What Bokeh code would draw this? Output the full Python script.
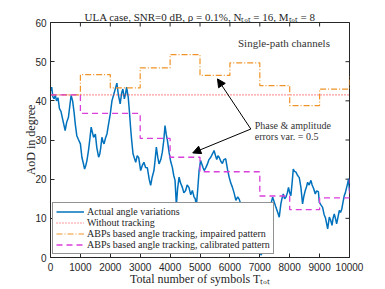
from bokeh.plotting import figure
from bokeh.models import Range1d, FixedTicker, Legend, LegendItem, Label, Arrow, NormalHead
from bokeh.embed import file_html
from bokeh.resources import INLINE
import math

# ---------------- data ----------------
x_ticks = [0, 1000, 2000, 3000, 4000, 5000, 6000, 7000, 8000, 9000, 10000]
y_ticks = [0, 10, 20, 30, 40, 50, 60]

actual_x = [0, 40, 80, 120, 160, 200, 250, 300, 350, 400, 450, 490, 540, 600, 650, 690, 740, 790, 830, 880,
            930, 1000, 1050, 1100, 1140, 1180, 1220, 1270, 1320, 1360, 1400, 1440, 1500, 1550, 1610, 1650,
            1680, 1720, 1760, 1790, 1840, 1890, 1940, 2000, 2055, 2110, 2165, 2220, 2270, 2330, 2380, 2420,
            2470, 2510, 2545, 2600, 2645, 2680, 2715, 2760, 2800, 2850, 2900, 2950, 3015, 3070, 3125, 3180,
            3240, 3300, 3350, 3400, 3460, 3500, 3540, 3590, 3630, 3690, 3740, 3790, 3830, 3870, 3910, 3965,
            4020, 4075, 4120, 4165, 4210, 4250, 4300, 4350, 4410, 4460, 4520, 4570, 4630, 4690, 4745, 4800,
            4840, 4880, 4930, 4970, 5020, 5060, 5100, 5140, 5200, 5250, 5300, 5360, 5420, 5470, 5520, 5560,
            5600, 5640, 5700, 5750, 5800, 5860, 5920, 5975, 6030, 6085, 6140, 6200, 6260, 6310, 6370, 6450,
            6550, 6650, 6750, 6850, 6950, 7050, 7120, 7200, 7280, 7350, 7430, 7490, 7540, 7600, 7650, 7705,
            7740, 7785, 7830, 7880, 7920, 7960, 8000, 8040, 8080, 8120, 8160, 8210, 8260, 8320, 8375, 8430,
            8470, 8520, 8560, 8600, 8650, 8710, 8750, 8800, 8855, 8900, 8960, 8990, 9040, 9100, 9150, 9200,
            9270, 9325, 9370, 9415, 9450, 9490, 9530, 9570, 9620, 9660, 9700, 9740, 9780, 9825, 9860, 9905,
            9940, 9970, 10000]
actual_y = [42.6, 43.5, 41.0, 40.5, 41.5, 40.0, 40.8, 38.0, 37.3, 35.5, 33.8, 32.4, 34.5, 35.8, 39.0, 41.4,
            40.0, 37.0, 34.0, 31.1, 30.2, 29.0, 25.6, 24.0, 22.6, 23.5, 24.8, 27.3, 30.5, 33.3, 32.0, 30.7,
            31.5, 28.0, 25.6, 26.5, 28.0, 30.7, 29.5, 29.0, 30.5, 31.6, 34.0, 36.7, 40.0, 41.5, 43.0, 44.5,
            41.5, 39.2, 42.0, 43.0, 40.5, 41.8, 43.5, 40.9, 36.7, 33.0, 29.9, 26.5, 25.5, 24.3, 26.0, 25.5,
            22.2, 23.5, 24.3, 23.0, 22.9, 20.0, 18.4, 20.5, 22.2, 25.0, 28.2, 25.5, 23.9, 25.0, 26.9, 30.0,
            33.7, 31.5, 29.9, 26.9, 24.5, 23.0, 21.0, 19.7, 13.3, 17.5, 20.5, 19.0, 17.9, 16.5, 17.1, 18.5,
            17.9, 16.0, 17.1, 15.5, 15.0, 13.3, 18.0, 22.2, 24.8, 23.9, 23.0, 22.2, 23.0, 23.9, 25.0, 25.6,
            26.5, 27.3, 26.0, 25.0, 26.0, 25.6, 24.5, 24.0, 25.0, 25.2, 22.5, 20.5, 19.0, 17.9, 16.5, 14.6,
            15.5, 14.9, 13.5, 11.0, 8.5, 6.5, 5.0, 3.5, 2.0, 0.6, 4.0, 8.0, 11.0, 13.0, 15.4, 14.0, 12.8,
            11.5, 10.3, 13.7, 15.0, 16.2, 15.0, 15.5, 16.5, 17.9, 16.5, 15.8, 19.0, 22.6, 22.0, 21.8, 21.0,
            20.4, 17.9, 13.7, 15.5, 17.1, 18.0, 19.2, 18.5, 19.7, 18.5, 17.6, 16.2, 17.0, 16.8, 14.1, 13.5,
            12.8, 11.0, 10.0, 7.3, 10.3, 9.5, 8.2, 10.0, 11.1, 10.0, 8.6, 10.5, 12.0, 11.5, 12.3, 14.0, 15.8,
            16.5, 17.9, 19.0, 20.1, 17.0]

no_track_x = [0, 10000]
no_track_y = [41.5, 41.5]

block_x = [0, 1000, 2000, 3000, 4000, 5000, 6000, 7000, 8000, 9000, 10000]
impaired_y = [41.5, 46.7, 43.3, 48.4, 51.8, 46.5, 49.7, 43.9, 38.8, 43.0, 46.7]
calibrated_y = [41.5, 36.8, 36.8, 30.4, 25.6, 21.9, 21.9, 15.7, 12.2, 15.2, 20.0]

legend_labels = ["Actual angle variations",
                 "Without tracking",
                 "ABPs based angle tracking, impaired pattern",
                 "ABPs based angle tracking, calibrated pattern"]

# ---------------- figure ----------------
SERIF = "Liberation Serif"
SANS = "Liberation Sans"
DARK = "#262626"

p = figure(width=385, height=289, output_backend="svg", toolbar_location=None,
           x_range=Range1d(x_ticks[0], x_ticks[-1]), y_range=Range1d(y_ticks[0], y_ticks[-1]),
           min_border_left=50, min_border_right=36, min_border_top=22, min_border_bottom=32)

p.title.text = "ULA case, SNR=0 dB, \u03c1 = 0.1%, N\u209c\u2092\u209c = 16, M\u209c\u2092\u209c = 8"
p.title.align = "center"
p.title.text_font = SERIF
p.title.text_font_style = "normal"
p.title.text_font_size = "11px"
p.title.text_color = DARK
p.title.standoff = 0
p.title.offset = 0

p.xgrid.visible = False
p.ygrid.visible = False
p.outline_line_color = DARK
p.outline_line_width = 1
p.background_fill_color = "white"

for ax, ticks in ((p.xaxis[0], x_ticks), (p.yaxis[0], y_ticks)):
    ax.ticker = FixedTicker(ticks=ticks)
    ax.major_tick_in = 4
    ax.major_tick_out = 0
    ax.minor_tick_line_color = None
    ax.axis_line_color = DARK
    ax.major_tick_line_color = DARK
    ax.major_label_text_font = SANS
    ax.major_label_text_font_size = "10px"
    ax.major_label_text_color = DARK
    ax.axis_label_text_font = SERIF
    ax.axis_label_text_font_style = "normal"
    ax.axis_label_text_font_size = "12px"
    ax.axis_label_text_color = DARK

p.xaxis[0].axis_label = "Total number of symbols T\u209c\u2092\u209c"
p.xaxis[0].major_label_standoff = 5
p.xaxis[0].axis_label_standoff = -2
p.yaxis[0].axis_label = "AoD in degree"
p.yaxis[0].major_label_standoff = 4
p.yaxis[0].axis_label_standoff = -6

# mirrored inward ticks on the top and right edges (clipped to the frame)
p.scatter(x_ticks, [y_ticks[-1]] * len(x_ticks), marker="dash", size=8, angle=math.pi / 2,
          line_color=DARK, line_width=1)
p.scatter([x_ticks[-1]] * len(y_ticks), y_ticks, marker="dash", size=8,
          line_color=DARK, line_width=1)

r_actual = p.line(actual_x, actual_y, line_color="#0072BD", line_width=1.5)
r_none = p.line(no_track_x, no_track_y, line_color="#FF3B3B", line_width=1.2, line_dash="1 2")
r_imp = p.step(block_x, impaired_y, mode="after", line_color="#EF9428", line_width=1.2,
               line_dash="6 2 1 2")
r_cal = p.step(block_x, calibrated_y, mode="after", line_color="#DA3FDA", line_width=1.3,
               line_dash="6 4")

legend = Legend(items=[LegendItem(label=legend_labels[0], renderers=[r_actual]),
                       LegendItem(label=legend_labels[1], renderers=[r_none]),
                       LegendItem(label=legend_labels[2], renderers=[r_imp]),
                       LegendItem(label=legend_labels[3], renderers=[r_cal])],
                location=(2, 3), orientation="vertical",
                label_text_font=SERIF, label_text_font_size="10px", label_text_color=DARK,
                label_height=11, glyph_height=11, glyph_width=28, label_standoff=3,
                spacing=0, padding=3, margin=0,
                border_line_color=DARK, border_line_width=1,
                background_fill_color="white", background_fill_alpha=1.0)
p.add_layout(legend, "center")

p.add_layout(Label(x=6270, y=54.8, text="Single-path channels", text_font=SERIF,
                   text_font_size="11px", text_color="#333333", text_baseline="middle"))
p.add_layout(Label(x=6830, y=33.6, text="Phase & amplitude", text_font=SERIF,
                   text_font_size="10px", text_color="#333333", text_baseline="middle"))
p.add_layout(Label(x=6830, y=30.9, text="errors var. = 0.5", text_font=SERIF,
                   text_font_size="10px", text_color="#333333", text_baseline="middle"))

for xe, ye in ((5585, 45.6), (4757, 26.7)):
    p.add_layout(Arrow(end=NormalHead(size=8, fill_color="black", line_color="black"),
                       x_start=6700, y_start=32.8, x_end=xe, y_end=ye,
                       line_color="black", line_width=1))

open("out.html", "w").write(file_html(p, INLINE))
